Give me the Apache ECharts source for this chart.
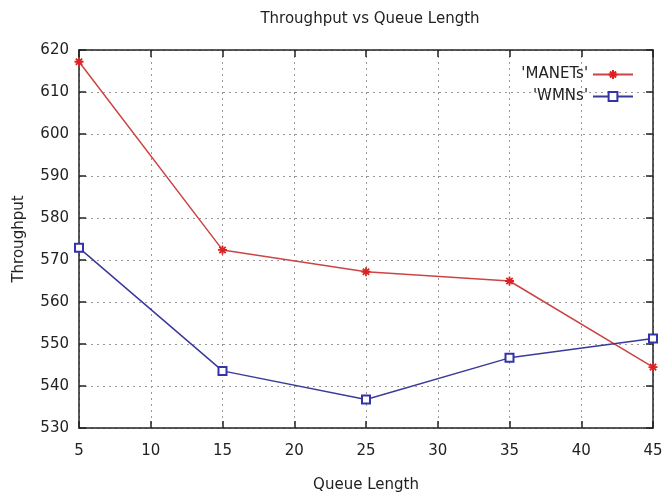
<!DOCTYPE html>
<html><head><meta charset="utf-8">
<script src="https://cdn.jsdelivr.net/npm/echarts@6/dist/echarts.min.js"></script>
<style>html,body{margin:0;padding:0;background:#fff}#c{width:669px;height:499px}</style>
</head><body><div id="c"></div>
<script>
const categories = [5, 15, 25, 35, 45];
const manets = [617.2, 572.4, 567.2, 565.0, 544.5];
const wmns = [572.9, 543.6, 536.8, 546.7, 551.3];
const xTicks = [5, 10, 15, 20, 25, 30, 35, 40, 45];
const yTicks = [530, 540, 550, 560, 570, 580, 590, 600, 610, 620];

const font = 'DejaVu Sans';
const starPath = 'path://M0,5L10,5M5,0L5,10M1.5,1.5L8.5,8.5M8.5,1.5L1.5,8.5';
const chart = echarts.init(document.getElementById('c'));
const gridLine = {show: true, lineStyle: {color: '#999', type: [2, 4], width: 1}};
chart.setOption({
  animation: false,
  backgroundColor: '#fff',
  title: {text: 'Throughput vs Queue Length', left: 365, top: 7, textAlign: 'center',
    textStyle: {fontFamily: font, fontSize: 15, fontWeight: 'normal', color: '#222'}},
  grid: {left: 79, right: 16, top: 50, bottom: 71},
  legend: {right: 30, top: 62, orient: 'vertical', align: 'right', itemWidth: 40, itemHeight: 11, itemGap: 7,
    textStyle: {fontFamily: font, fontSize: 15, color: '#222'},
    data: ["'MANETs'", "'WMNs'"]},
  xAxis: [{type: 'value', min: xTicks[0], max: xTicks[xTicks.length-1], interval: 5,
    name: 'Queue Length', nameLocation: 'middle', nameGap: 50,
    nameTextStyle: {fontFamily: font, fontSize: 15, color: '#222'},
    axisLine: {lineStyle: {color: '#222', width: 1.5}},
    axisTick: {inside: true, length: 7, lineStyle: {color: '#222', width: 1.5}},
    axisLabel: {fontFamily: font, fontSize: 15, color: '#222', margin: 16},
    splitLine: gridLine},
   {type: 'value', position: 'top', min: xTicks[0], max: xTicks[xTicks.length-1], interval: 5,
    axisLine: {lineStyle: {color: '#222', width: 1.5}},
    axisTick: {inside: true, length: 7, lineStyle: {color: '#222', width: 1.5}},
    axisLabel: {show: false}, splitLine: {show: false}}],
  yAxis: [{type: 'value', min: yTicks[0], max: yTicks[yTicks.length-1], interval: 10,
    name: 'Throughput', nameLocation: 'middle', nameGap: 52,
    nameTextStyle: {fontFamily: font, fontSize: 15, color: '#222'},
    axisLine: {show: true, lineStyle: {color: '#222', width: 1.5}},
    axisTick: {show: true, inside: true, length: 7, lineStyle: {color: '#222', width: 1.5}},
    axisLabel: {fontFamily: font, fontSize: 15, color: '#222', margin: 10},
    splitLine: gridLine},
   {type: 'value', position: 'right', min: yTicks[0], max: yTicks[yTicks.length-1], interval: 10,
    axisLine: {show: true, lineStyle: {color: '#222', width: 1.5}},
    axisTick: {show: true, inside: true, length: 7, lineStyle: {color: '#222', width: 1.5}},
    axisLabel: {show: false}, splitLine: {show: false}}],
  series: [
    {name: "'MANETs'", type: 'line', data: categories.map((x, i) => [x, manets[i]]),
     symbol: starPath, symbolSize: 9, showSymbol: true,
     lineStyle: {color: '#cc4444', width: 1.5},
     itemStyle: {color: '#cc2222', borderColor: '#dd2222', borderWidth: 1.8}},
    {name: "'WMNs'", type: 'line', data: categories.map((x, i) => [x, wmns[i]]),
     symbol: 'emptyRect', symbolSize: 8,
     lineStyle: {color: '#3a3a9a', width: 1.5},
     itemStyle: {color: '#3333aa', borderColor: '#3333aa', borderWidth: 1.2}}
  ]
});
</script></body></html>
